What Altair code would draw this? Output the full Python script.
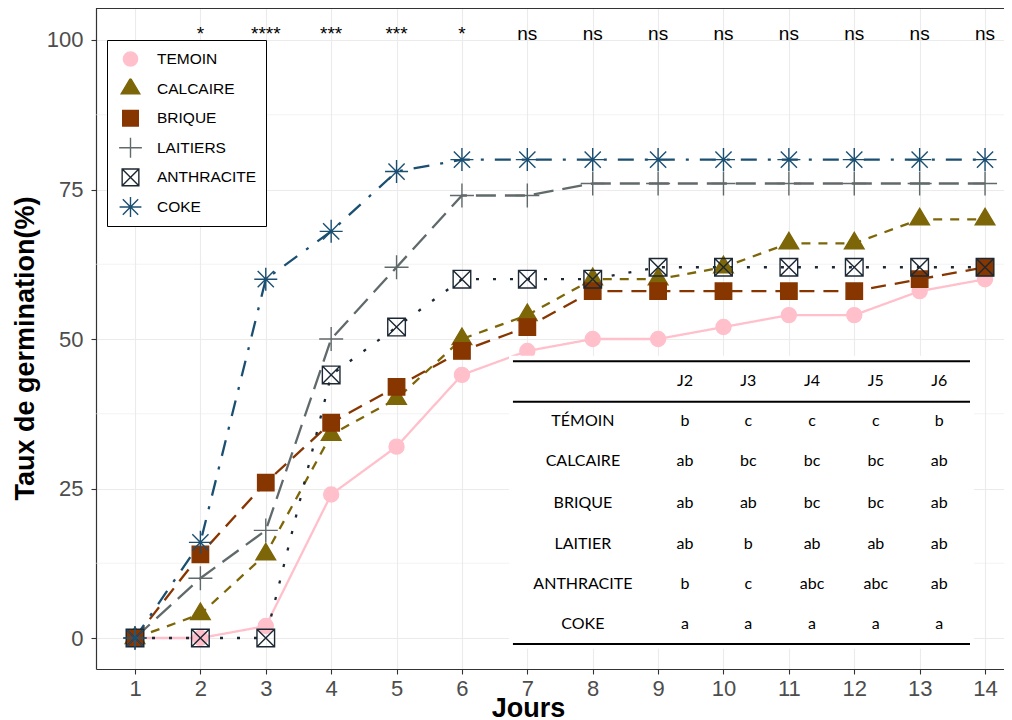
import altair as alt
import pandas as pd

# ---------------- data ----------------
jours = list(range(1, 15))
traitements = ["TEMOIN", "CALCAIRE", "BRIQUE", "LAITIERS", "ANTHRACITE", "COKE"]
temoin = [0, 0, 2, 24, 32, 44, 48, 50, 50, 52, 54, 54, 58, 60]
calcaire = [0, 4, 14, 34, 40, 50, 54, 60, 60, 62, 66, 66, 70, 70]
brique = [0, 14, 26, 36, 42, 48, 52, 58, 58, 58, 58, 58, 60, 62]
laitiers = [0, 10, 18, 50, 62, 74, 74, 76, 76, 76, 76, 76, 76, 76]
anthracite = [0, 0, 0, 44, 52, 60, 60, 60, 62, 62, 62, 62, 62, 62]
coke = [0, 16, 60, 68, 78, 80, 80, 80, 80, 80, 80, 80, 80, 80]
series = [temoin, calcaire, brique, laitiers, anthracite, coke]

sig_jours = list(range(2, 15))
sig_labels = ["*", "****", "***", "***", "*", "ns", "ns", "ns", "ns", "ns", "ns", "ns", "ns"]

table_cols = ["J2", "J3", "J4", "J5", "J6"]
table_rows = ["TÉMOIN", "CALCAIRE", "BRIQUE", "LAITIER", "ANTHRACITE", "COKE"]
table_letters = [
    ["b", "c", "c", "c", "b"],
    ["ab", "bc", "bc", "bc", "ab"],
    ["ab", "ab", "bc", "bc", "ab"],
    ["ab", "b", "ab", "ab", "ab"],
    ["b", "c", "abc", "abc", "ab"],
    ["a", "a", "a", "a", "a"],
]

# ---------------- styles ----------------
couleurs = ["#FFC0CB", "#7D6608", "#873600", "#616A6B", "#1C2833", "#1B4F72"]
remplissage = ["#FFC0CB", "#7D6608", "#873600", "transparent", "transparent", "transparent"]
tirets = [[1, 0], [9, 8], [15, 9], [20, 9], [3, 14], [16, 11, 3, 11]]
formes = [
    "M-0.75,0A0.75,0.75,0,1,1,0.75,0A0.75,0.75,0,1,1,-0.75,0Z",
    "M0,-1.1L0.98,0.55L-0.98,0.55Z",
    "M-0.82,-0.82L0.82,-0.82L0.82,0.82L-0.82,0.82Z",
    "M-1.2,0L1.2,0M0,-1.2L0,1.2",
    "M-0.88,-0.88L0.88,-0.88L0.88,0.88L-0.88,0.88ZM-0.88,-0.88L0.88,0.88M-0.88,0.88L0.88,-0.88",
    "M-1.15,0L1.15,0M0,-1.15L0,1.15M-0.81,-0.81L0.81,0.81M-0.81,0.81L0.81,-0.81",
]

# table layout (data units)
col_x = [9.41, 10.38, 11.355, 12.33, 13.30]
lab_x = 7.85
head_y = 43.0
row_y = [36.3, 29.6, 22.6, 15.7, 9.0, 2.3]
line_y = [46.3, 39.5, -1.0]
tab_x0, tab_x1 = 6.78, 13.77

# ---------------- frames ----------------
rows = []
for t, vals in zip(traitements, series):
    for j, v in zip(jours, vals):
        rows.append({"x": j, "y": v, "traitement": t})
df = pd.DataFrame(rows)

df_sig = pd.DataFrame({"x": sig_jours, "y": [100] * len(sig_jours), "label": sig_labels})
df_minor = pd.DataFrame({"y": [12.5, 37.5, 62.5, 87.5]})

tab_txt = []
for cx, c in zip(col_x, table_cols):
    tab_txt.append({"x": cx, "y": head_y, "label": c})
for ry, r, lets in zip(row_y, table_rows, table_letters):
    tab_txt.append({"x": lab_x, "y": ry, "label": r})
    for cx, l in zip(col_x, lets):
        tab_txt.append({"x": cx, "y": ry, "label": l})
df_tab = pd.DataFrame(tab_txt)
df_lines = pd.DataFrame({"x": [tab_x0] * 3, "x2": [tab_x1] * 3, "y": line_y})
df_bg = pd.DataFrame({"x": [tab_x0 - 0.06], "x2": [tab_x1 + 0.06], "y": [-1.8], "y2": [47.2]})

# ---------------- scales / axes ----------------
FONT = "Liberation Sans"
xscale = alt.Scale(domain=[0.4035, 14.29], nice=False, zero=False)
yscale = alt.Scale(domain=[-5.18, 105.35], nice=False, zero=False)
xaxis = alt.Axis(
    values=jours, title="Jours", labelFontSize=22, labelColor="#4D4D4D", labelFont=FONT,
    tickColor="#333333", tickSize=5, tickWidth=1.1, labelPadding=4,
    domainColor="#333333", domainWidth=1.2, gridColor="#EBEBEB", gridWidth=1.1,
    titleFont=FONT, titleFontSize=27, titleFontWeight="bold", titleColor="black",
    titleX=432, titleY=47, titleBaseline="alphabetic", titleAlign="center",
)
yaxis = alt.Axis(
    values=[0, 25, 50, 75, 100], title="Taux de germination(%)", labelFontSize=22,
    labelColor="#4D4D4D", labelFont=FONT, tickColor="#333333", tickSize=5, tickWidth=1.1,
    labelPadding=8, domainColor="#333333", domainWidth=1.2, gridColor="#EBEBEB", gridWidth=1.1,
    titleFont=FONT, titleFontSize=27, titleFontWeight="bold", titleColor="black",
    titleX=-63, titleY=340, titleBaseline="alphabetic", titleAlign="center", titleAngle=270,
)
X = alt.X("x:Q", scale=xscale, axis=xaxis)
Y = alt.Y("y:Q", scale=yscale, axis=yaxis)

leg = alt.Legend(
    title=None, orient="none", legendX=11, legendY=32, fillColor="white", strokeColor="black",
    padding=9, symbolSize=360, labelFontSize=15.5, labelFont=FONT, labelColor="black",
    rowPadding=9.6, clipHeight=20, labelOffset=16, symbolOffset=4, symbolStrokeWidth=1.4,
    cornerRadius=0,
)

minor = alt.Chart(df_minor).mark_rule(color="#EBEBEB", strokeWidth=0.6).encode(y=Y)

top_border = alt.Chart(df_minor).mark_rule(color="#333333", strokeWidth=1.2).encode(
    x=alt.value(0), x2=alt.value(908), y=alt.value(0.5)
)

line_layers = []
for t, col, dash in zip(traitements, couleurs, tirets):
    line_layers.append(
        alt.Chart(df[df["traitement"] == t]).mark_line(strokeWidth=2.3, color=col, strokeDash=dash).encode(
            x=X, y=Y
        )
    )

points = alt.Chart(df).mark_point(opacity=1, fillOpacity=1, strokeWidth=1.4, size=400).encode(
    x=X, y=Y,
    shape=alt.Shape("traitement:N", scale=alt.Scale(domain=traitements, range=formes), legend=leg),
    fill=alt.Fill("traitement:N", scale=alt.Scale(domain=traitements, range=remplissage), legend=leg),
    stroke=alt.Stroke("traitement:N", scale=alt.Scale(domain=traitements, range=couleurs), legend=leg),
)

sig = alt.Chart(df_sig).mark_text(font=FONT, fontSize=19, baseline="alphabetic", color="black").encode(
    x=X, y=Y, text="label:N"
)

bg = alt.Chart(df_bg).mark_rect(color="white").encode(x=X, x2="x2:Q", y=Y, y2="y2:Q")
tlines = alt.Chart(df_lines).mark_rule(color="black", strokeWidth=2).encode(x=X, x2="x2:Q", y=Y)
ttext = alt.Chart(df_tab).mark_text(font="Lato", fontSize=16, baseline="middle", color="black").encode(
    x=X, y=Y, text="label:N"
)

chart = alt.layer(minor, *line_layers, points, sig, bg, tlines, ttext, top_border).properties(
    width=908, height=661,
    padding={"left": 88, "top": 0, "right": 0, "bottom": 51},
    autosize=alt.AutoSizeParams(type="none"),
).configure_view(stroke=None)

chart.save("out.html", embed_options={"renderer": "svg", "actions": False})
